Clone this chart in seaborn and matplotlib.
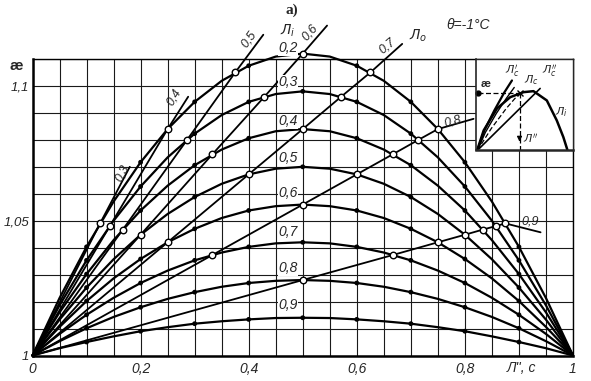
import numpy as np
import pandas as pd
import matplotlib.pyplot as plt
import seaborn as sns

# x axis: Л'' ; y axis: æ
x_vals = [0, 0.05, 0.1, 0.15, 0.2, 0.25, 0.3, 0.35, 0.4, 0.45, 0.5,
          0.55, 0.6, 0.65, 0.7, 0.75, 0.8, 0.85, 0.9, 0.95, 1]

# curves for Л_i = 0.2 ... 0.9
li_labels = ["0,2", "0,3", "0,4", "0,5", "0,6", "0,7", "0,8", "0,9"]
k_02 = [1, 1.0213, 1.0403, 1.0571, 1.0717, 1.0840, 1.0941, 1.1019, 1.1075, 1.1109, 1.1120,
        1.1109, 1.1075, 1.1019, 1.0941, 1.0840, 1.0717, 1.0571, 1.0403, 1.0213, 1]
k_03 = [1, 1.0186, 1.0353, 1.0500, 1.0627, 1.0735, 1.0823, 1.0892, 1.0941, 1.0970, 1.0980,
        1.0970, 1.0941, 1.0892, 1.0823, 1.0735, 1.0627, 1.0500, 1.0353, 1.0186, 1]
k_04 = [1, 1.0160, 1.0302, 1.0428, 1.0538, 1.0630, 1.0706, 1.0764, 1.0806, 1.0832, 1.0840,
        1.0832, 1.0806, 1.0764, 1.0706, 1.0630, 1.0538, 1.0428, 1.0302, 1.0160, 1]
k_05 = [1, 1.0133, 1.0252, 1.0357, 1.0448, 1.0525, 1.0588, 1.0637, 1.0672, 1.0693, 1.0700,
        1.0693, 1.0672, 1.0637, 1.0588, 1.0525, 1.0448, 1.0357, 1.0252, 1.0133, 1]
k_06 = [1, 1.0106, 1.0202, 1.0286, 1.0358, 1.0420, 1.0470, 1.0510, 1.0538, 1.0554, 1.0560,
        1.0554, 1.0538, 1.0510, 1.0470, 1.0420, 1.0358, 1.0286, 1.0202, 1.0106, 1]
k_07 = [1, 1.0080, 1.0151, 1.0214, 1.0269, 1.0315, 1.0353, 1.0382, 1.0403, 1.0416, 1.0420,
        1.0416, 1.0403, 1.0382, 1.0353, 1.0315, 1.0269, 1.0214, 1.0151, 1.0080, 1]
k_08 = [1, 1.0053, 1.0101, 1.0143, 1.0179, 1.0210, 1.0235, 1.0255, 1.0269, 1.0277, 1.0280,
        1.0277, 1.0269, 1.0255, 1.0235, 1.0210, 1.0179, 1.0143, 1.0101, 1.0053, 1]
k_09 = [1, 1.0027, 1.0050, 1.0071, 1.0090, 1.0105, 1.0118, 1.0127, 1.0134, 1.0139, 1.0140,
        1.0139, 1.0134, 1.0127, 1.0118, 1.0105, 1.0090, 1.0071, 1.0050, 1.0027, 1]
li_curves = [k_02, k_03, k_04, k_05, k_06, k_07, k_08, k_09]

# lines of constant Л_o (first point = origin, last point = line end)
lo_labels = ["0,3", "0,4", "0,5", "0,6", "0,7", "0,8", "0,9"]
lo_x = [
    [0, 0.125, 0.18],
    [0, 0.143, 0.25, 0.288],
    [0, 0.167, 0.286, 0.375, 0.427],
    [0, 0.2, 0.333, 0.429, 0.5, 0.545],
    [0, 0.25, 0.4, 0.5, 0.571, 0.625, 0.684],
    [0, 0.333, 0.5, 0.6, 0.667, 0.714, 0.75, 0.816],
    [0, 0.5, 0.667, 0.75, 0.8, 0.833, 0.857, 0.875, 0.94],
]
lo_k = [
    [1, 1.049, 1.070],
    [1, 1.048, 1.084, 1.096],
    [1, 1.0467, 1.080, 1.105, 1.119],
    [1, 1.0448, 1.0747, 1.096, 1.112, 1.1224],
    [1, 1.042, 1.0672, 1.084, 1.096, 1.105, 1.1156],
    [1, 1.0373, 1.056, 1.0672, 1.0747, 1.080, 1.084, 1.0878],
    [1, 1.028, 1.0373, 1.042, 1.0448, 1.0467, 1.048, 1.049, 1.0457],
]

# long tables
rows = []
for lab, ks in zip(li_labels, li_curves):
    for x, k in zip(x_vals, ks):
        rows.append((lab, x, k))
df_i = pd.DataFrame(rows, columns=["li", "x", "k"])
tenth = np.isclose(df_i["x"] * 10, np.round(df_i["x"] * 10))
dots = df_i[(df_i["x"] > 0) & (df_i["x"] < 1) & tenth]

rows = []
for lab, xs, ks in zip(lo_labels, lo_x, lo_k):
    for j, (x, k) in enumerate(zip(xs, ks)):
        rows.append((lab, j, x, k, 0 < j < len(xs) - 1))
df_o = pd.DataFrame(rows, columns=["lo", "j", "x", "k", "mark"])

sns.set_style("white")
plt.rcParams["font.family"] = ["Liberation Sans", "DejaVu Sans"]
plt.rcParams["mathtext.fontset"] = "dejavusans"

fig = plt.figure(figsize=(5.91, 3.81), dpi=100)
ax = fig.add_axes([32.5 / 591, 1 - 355.5 / 381, 540.5 / 591, 296.5 / 381])

sns.lineplot(data=df_i, x="x", y="k", units="li", estimator=None, sort=False,
             color="black", lw=1.6, ax=ax, clip_on=False, zorder=3)
sns.lineplot(data=df_o, x="x", y="k", units="lo", estimator=None, sort=False,
             color="black", lw=1.3, ax=ax, clip_on=False, zorder=3)
sns.scatterplot(data=dots, x="x", y="k", color="black", s=12, edgecolor="none",
                ax=ax, zorder=4, clip_on=False)
sns.scatterplot(data=df_o[df_o["mark"]], x="x", y="k", color="white", s=22,
                edgecolor="black", linewidth=1.0, ax=ax, zorder=5, clip_on=False)

ax.set_xlim(0, 1)
ax.set_ylim(1, 1.11)
xt = np.round(np.arange(0, 1.0001, 0.05), 2)
yt = np.round(np.arange(1, 1.1101, 0.01), 2)
ax.set_xticks(xt)
ax.set_yticks(yt)
xmap = {0.0: "0", 0.2: "0,2", 0.4: "0,4", 0.6: "0,6", 0.8: "0,8", 1.0: "1"}
ymap = {1.0: "1", 1.05: "1,05", 1.1: "1,1"}
ax.set_xticklabels([xmap.get(v, "") for v in xt], fontsize=10, style="italic")
ax.set_yticklabels([ymap.get(v, "") for v in yt], fontsize=9.5, style="italic")
ax.tick_params(axis="x", length=0, pad=5)
ax.tick_params(axis="y", length=0, pad=2.5)
ax.grid(True, color="#1a1a1a", lw=0.8)
ax.set_axisbelow(True)
ax.set_xlabel("")
ax.set_ylabel("")
for side in ["top", "right"]:
    ax.spines[side].set_linewidth(1.0)
for side in ["left", "bottom"]:
    ax.spines[side].set_linewidth(1.8)
for sp in ax.spines.values():
    sp.set_color("black")

lab_kw = dict(fontsize=10, style="italic", ha="center", va="center",
              bbox=dict(fc="white", ec="none", pad=0.3), zorder=6)
li_text_y = [1.1139, 1.1013, 1.0869, 1.0731, 1.0602, 1.0457, 1.0324, 1.0187]
for lab, ty in zip(li_labels, li_text_y):
    ax.text(0.472, ty, lab, clip_on=False, **lab_kw)
ax.text(0.473, 1.1205, "$Л_i$", fontsize=10, ha="center", va="center", clip_on=False)

lo_text = [(0.166, 1.0675, 63), (0.2626, 1.0959, 59), (0.3996, 1.1175, 54),
           (0.514, 1.1199, 48), (0.656, 1.115, 40), (0.777, 1.0868, 15), (0.921, 1.0496, 0)]
for lab, (tx, ty, rot) in zip(lo_labels, lo_text):
    ax.text(tx, ty, lab, rotation=rot, rotation_mode="anchor", fontsize=9, style="italic",
            ha="center", va="center", clip_on=False, zorder=6)
ax.text(0.714, 1.1187, "$Л_o$", fontsize=10, ha="center", va="center", clip_on=False)

ax.text(0.905, 0.9955, "Л'', c", fontsize=10, style="italic", ha="center", va="center")
ax.text(-0.03, 1.1075, "æ", fontsize=11, fontweight="bold", ha="center", va="center")
fig.text(292 / 591, 1 - 10 / 381, "а)", fontsize=11, fontweight="bold",
         family="Liberation Serif", ha="center", va="center")
fig.text(468 / 591, 1 - 25 / 381, "θ=-1°C", fontsize=10, style="italic",
         ha="center", va="center")

# small explanatory sketch in the corner
ins = ax.inset_axes([0.8213, 1.0761, 0.1787, 0.0339], transform=ax.transData, zorder=7)
ins.set_facecolor("white")
ins.set_xlim(0, 97)
ins.set_ylim(0, 91.5)
ins.set_xticks([])
ins.set_yticks([])
ins.spines["left"].set_linewidth(1.2)
ins.spines["bottom"].set_linewidth(1.8)
ins.spines["top"].set_linewidth(1.0)
ins.spines["right"].set_linewidth(1.0)
sk_x = [0.7, 7.3, 20.7, 34, 47.3, 57.3, 70.7, 80.7, 87.3, 91.3]
sk_y = [0, 20, 42, 53.3, 58.3, 59.3, 50, 30, 13.3, 0.7]
ins.plot(sk_x, sk_y, color="black", lw=1.8)
ins.plot([2.3, 64], [1.3, 62], color="black", lw=1.2)
ins.plot([1, 8, 18, 28, 35.7], [0, 20, 40, 58, 70], color="black", lw=1.6)
ins.plot([1, 9, 20, 30, 38], [0, 18, 37, 52, 63], color="black", lw=1.0)
ins.plot([1, 15, 30, 43.3], [0, 22, 42, 57.3], color="black", lw=0.9, ls=(0, (4, 2)))
ins.plot([1.3, 43.3], [57.3, 57.3], color="black", lw=0.9, ls=(0, (4, 2)))
ins.plot([43.3, 43.3], [57.3, 0], color="black", lw=0.9, ls=(0, (4, 2)))
ins.plot([1.3], [57.3], "o", color="black", ms=3.5, clip_on=False)
ins.plot([43.3], [57.3], "x", color="black", ms=4, mew=1.0)
ins.annotate("", xy=(43.3, 6), xytext=(43.3, 14),
             arrowprops=dict(arrowstyle="-|>", color="black", lw=0.9, mutation_scale=7))
ins.text(9, 66, "æ", fontsize=8, fontweight="bold", ha="center", va="center")
ins.text(35.7, 79, "$Л_c'$", fontsize=8, ha="center", va="center")
ins.text(55.7, 70, "$Л_c$", fontsize=8, ha="center", va="center")
ins.text(74, 79, "$Л_c''$", fontsize=8, ha="center", va="center")
ins.text(85.7, 38, "$Л_i$", fontsize=8, ha="center", va="center")
ins.text(55, 12, "$Л''$", fontsize=8, ha="center", va="center")

fig.savefig("out.png", dpi=100, facecolor="white")
